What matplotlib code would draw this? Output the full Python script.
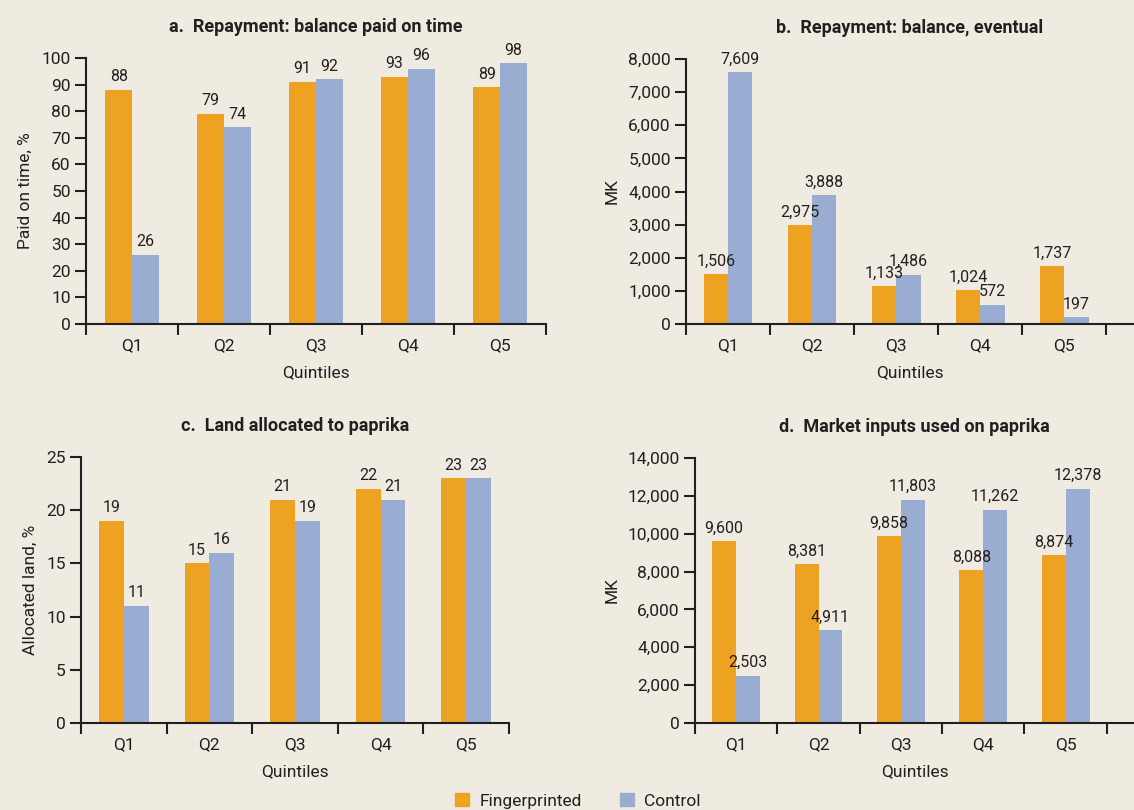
import matplotlib
matplotlib.use("Agg")
import matplotlib.pyplot as plt
from matplotlib.patches import Patch
from matplotlib.ticker import FuncFormatter, FixedLocator
import numpy as np

plt.rcParams['font.family'] = ['Roboto', 'DejaVu Sans']

quintiles = ["Q1", "Q2", "Q3", "Q4", "Q5"]

paid_fp = [88, 79, 91, 93, 89]
paid_ctl = [26, 74, 92, 96, 98]

bal_fp = [1506, 2975, 1133, 1024, 1737]
bal_ctl = [7609, 3888, 1486, 572, 197]

land_fp = [19, 15, 21, 22, 23]
land_ctl = [11, 16, 19, 21, 23]

inp_fp = [9600, 8381, 9858, 8088, 8874]
inp_ctl = [2503, 4911, 11803, 11262, 12378]

ORANGE = "#EDA321"
BLUE = "#98ADD1"
BG = "#EFEBE1"
INK = "#231F20"

W, H = 1134, 810
fig = plt.figure(figsize=(W / 100, H / 100), dpi=100, facecolor=BG)


def px_axes(left, right, bottom, top):
    return fig.add_axes([left / W, (H - bottom) / H, (right - left) / W, (bottom - top) / H])


comma = FuncFormatter(lambda v, p: f"{int(v):,}")


def panel(ax, fp, ctl, title, ylabel, ymax, ystep, xmax, fmt=None):
    ax.set_facecolor(BG)
    x = np.arange(len(quintiles))
    w = 0.29
    b1 = ax.bar(x - w / 2, fp, w, color=ORANGE)
    b2 = ax.bar(x + w / 2, ctl, w, color=BLUE)
    labs = (lambda v: f"{int(v):,}") if fmt else (lambda v: f"{int(v)}")
    ax.bar_label(b1, labels=[labs(v) for v in fp], padding=4, fontsize=11.5, color=INK)
    ax.bar_label(b2, labels=[labs(v) for v in ctl], padding=4, fontsize=11.5, color=INK)
    ax.set_xlim(-0.5, xmax)
    ax.set_ylim(0, ymax)
    ax.set_yticks(np.arange(0, ymax + 1, ystep))
    if fmt:
        ax.yaxis.set_major_formatter(comma)
    ax.xaxis.set_major_locator(FixedLocator(np.arange(-0.5, 5, 1)))
    ax.xaxis.set_minor_locator(FixedLocator(x))
    ax.xaxis.set_major_formatter(FuncFormatter(lambda v, p: ""))
    ax.set_xticklabels(quintiles, minor=True)
    ax.tick_params(axis="x", which="major", length=8, width=1.5, color=INK, direction="out")
    ax.tick_params(axis="x", which="minor", length=0, labelsize=12.5, pad=10, colors=INK)
    ax.tick_params(axis="y", length=8, width=1.5, labelsize=12.5, colors=INK, pad=3)
    for s in ["top", "right"]:
        ax.spines[s].set_visible(False)
    for s in ["left", "bottom"]:
        ax.spines[s].set_linewidth(1.5)
        ax.spines[s].set_color(INK)
    ax.set_xlabel("Quintiles", fontsize=12.5, color=INK, labelpad=9)
    ax.set_ylabel(ylabel, fontsize=12.5, color=INK, labelpad=6)
    ax.set_title(title, fontsize=13, fontweight="bold", color=INK, pad=19)


ax_a = px_axes(86, 546, 324, 58)
panel(ax_a, paid_fp, paid_ctl, "a.  Repayment: balance paid on time", "Paid on time, %", 100, 10, 4.5)

ax_b = px_axes(686, 1134, 324, 59)
panel(ax_b, bal_fp, bal_ctl, "b.  Repayment: balance, eventual", "MK", 8000, 1000, 4.83, fmt=True)

ax_c = px_axes(81, 509, 723, 457)
panel(ax_c, land_fp, land_ctl, "c.  Land allocated to paprika", "Allocated land, %", 25, 5, 4.5)

ax_d = px_axes(695, 1134, 723, 458)
panel(ax_d, inp_fp, inp_ctl, "d.  Market inputs used on paprika", "MK", 14000, 2000, 4.83, fmt=True)

handles = [Patch(color=ORANGE, label="Fingerprinted"), Patch(color=BLUE, label="Control")]
fig.legend(handles=handles, loc="center", bbox_to_anchor=(578 / W, 1 - 801 / H), ncol=2,
           frameon=False, fontsize=12.5, handlelength=0.8, handleheight=0.8,
           columnspacing=2.2, handletextpad=0.6, labelcolor=INK)

fig.savefig("out.png", dpi=100, facecolor=BG)
